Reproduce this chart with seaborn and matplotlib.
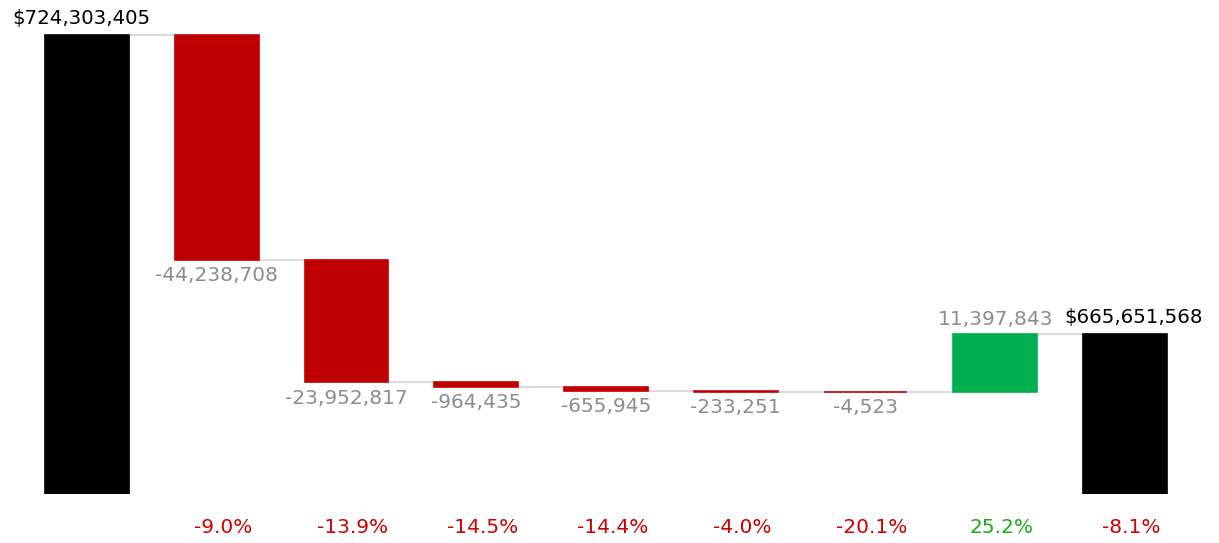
import numpy as np
import pandas as pd
import matplotlib
matplotlib.use("Agg")
import matplotlib.pyplot as plt
import seaborn as sns

# ---- data ----
categories = ["Start", "Step 1", "Step 2", "Step 3", "Step 4", "Step 5", "Step 6", "Step 7", "End"]
start_total = 724303405
deltas = [-44238708, -23952817, -964435, -655945, -233251, -4523, 11397843]
end_total = 665651568
pct_labels = [-9.0, -13.9, -14.5, -14.4, -4.0, -20.1, 25.2, -8.1]  # for categories 1..8

# ---- layout / style ----
Y_BOTTOM = 634.2e6
Y_TOP = 731.1e6
BAR_W = 0.646
C_TOTAL = "#000000"
C_NEG = "#c00000"
C_POS = "#00b050"
C_CONN = "#dcdcdc"
C_LBL = "#8c8c8c"
C_PCT_NEG = "#cc0000"
C_PCT_POS = "#1aaa1a"

sns.set_theme(style="white")
plt.rcParams["font.family"] = ["DejaVu Sans"]

# compute floating bars
running = [start_total]
for d in deltas:
    running.append(running[-1] + d)

lowers, heights, colors = [], [], []
lowers.append(Y_BOTTOM); heights.append(start_total - Y_BOTTOM); colors.append(C_TOTAL)
for i, d in enumerate(deltas):
    prev = running[i]
    cur = running[i + 1]
    lowers.append(min(prev, cur)); heights.append(abs(d))
    colors.append(C_NEG if d < 0 else C_POS)
lowers.append(Y_BOTTOM); heights.append(end_total - Y_BOTTOM); colors.append(C_TOTAL)

df = pd.DataFrame({"cat": categories, "height": heights})

fig = plt.figure(figsize=(12.19, 5.43), dpi=100)
ax = fig.add_axes([0, 1 - 494 / 543, 1, 494 / 543])

sns.barplot(data=df, x="cat", y="height", order=categories, color="black",
            width=BAR_W, ax=ax, errorbar=None, zorder=3)
for patch, low, col in zip(ax.patches, lowers, colors):
    patch.set_y(low)
    patch.set_facecolor(col)
    patch.set_edgecolor(col)
    patch.set_linewidth(1.2)

# connectors
levels = [start_total] + running[1:]
for i in range(len(categories) - 1):
    lvl = levels[i]
    ax.plot([i + BAR_W / 2, i + 1 - BAR_W / 2], [lvl, lvl], color=C_CONN, lw=1.5, zorder=2,
            solid_capstyle="butt")

# labels
ax.annotate(f"${start_total:,.0f}", (0, start_total), xytext=(-4, 5), textcoords="offset points",
            ha="center", va="bottom", fontsize=14.2, color="black")
ax.annotate(f"${end_total:,.0f}", (len(categories) - 1, end_total), xytext=(6, 5),
            textcoords="offset points", ha="center", va="bottom", fontsize=14.2, color="black")
for i, d in enumerate(deltas):
    x = i + 1
    if d < 0:
        ax.annotate(f"{d:,.0f}", (x, lowers[x]), xytext=(0, -4.5), textcoords="offset points",
                    ha="center", va="top", fontsize=14.5, color=C_LBL)
    else:
        ax.annotate(f"{d:,.0f}", (x, lowers[x] + heights[x]), xytext=(0, 3),
                    textcoords="offset points", ha="center", va="bottom", fontsize=14.5, color=C_LBL)

trans = matplotlib.transforms.blended_transform_factory(ax.transData, ax.transAxes)
for j, p in enumerate(pct_labels):
    x = j + 1
    ax.text(x + 0.05, -0.067, f"{p:.1f}%", transform=trans, ha="center", va="center",
            fontsize=14.5, color=C_PCT_NEG if p < 0 else C_PCT_POS, clip_on=False)

ax.set_xlim(-0.67, 8.725)
ax.set_ylim(Y_BOTTOM, Y_TOP)
ax.set_xlabel("")
ax.set_ylabel("")
ax.set_xticks([])
ax.set_yticks([])
for s in ax.spines.values():
    s.set_visible(False)
ax.set_facecolor("white")

fig.savefig("out.png", dpi=100, facecolor="white")
